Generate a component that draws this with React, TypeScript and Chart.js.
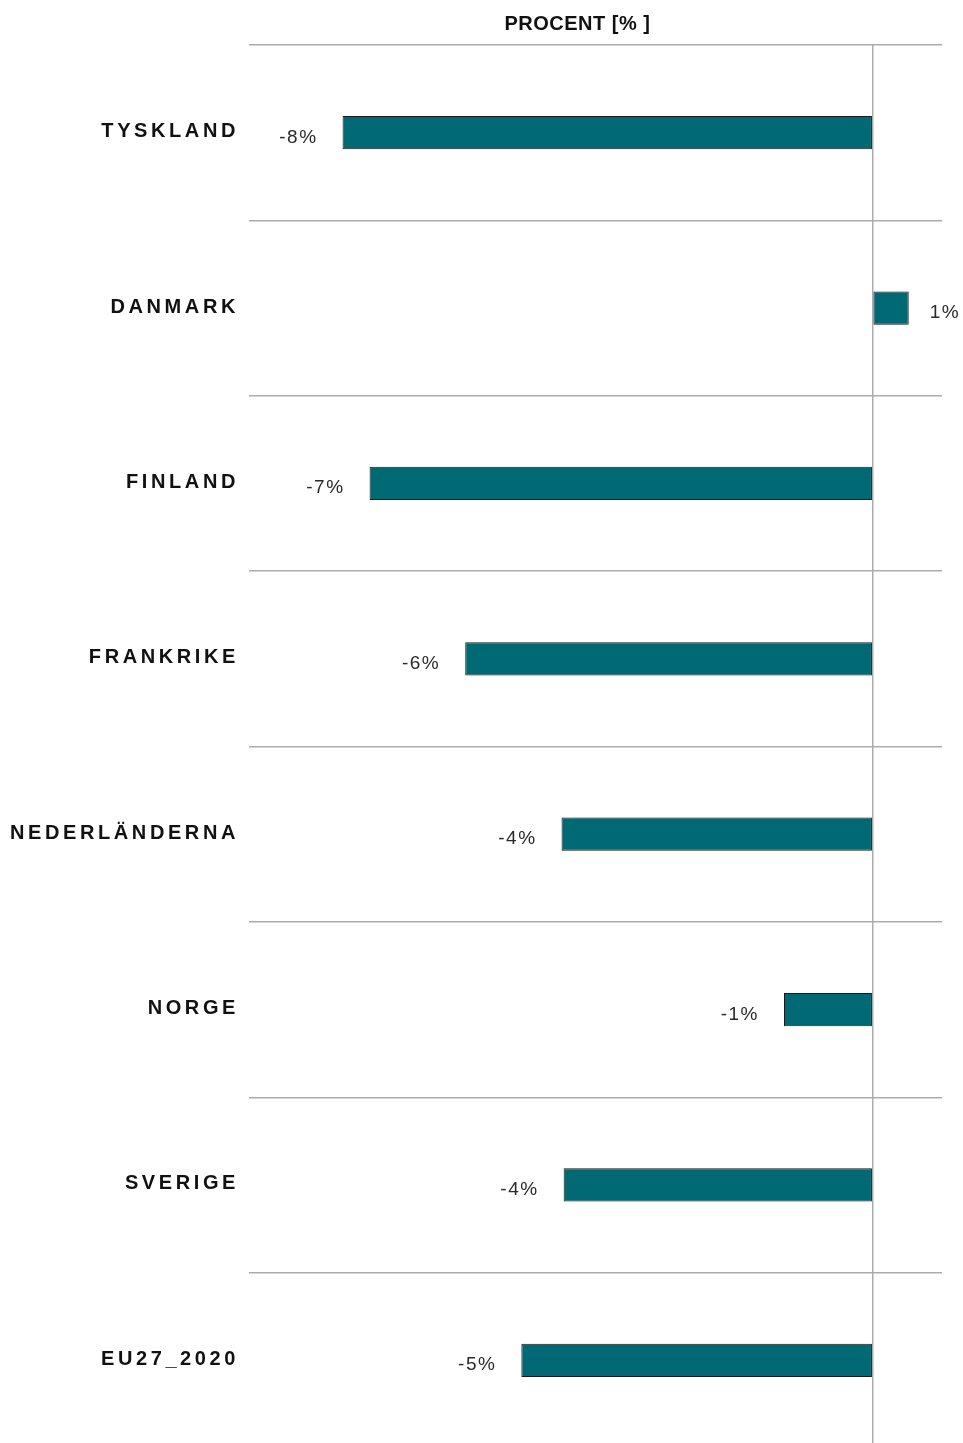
import React, { useEffect, useRef } from "react";
import { Chart, registerables } from "chart.js";

Chart.register(...registerables);

const categories = [
  "TYSKLAND",
  "DANMARK",
  "FINLAND",
  "FRANKRIKE",
  "NEDERLÄNDERNA",
  "NORGE",
  "SVERIGE",
  "EU27_2020",
];
const values = [-7.65, 0.52, -7.26, -5.88, -4.49, -1.28, -4.46, -5.07];
const axisTitle = "PROCENT [% ]";
const xMin = -9;
const xMax = 1;

const BAR_COLOR = "#006973";
const GRID_COLOR = "#ababab";

export default function App() {
  const ref = useRef<HTMLCanvasElement | null>(null);

  useEffect(() => {
    if (!ref.current) return;
    const plugin = {
      id: "custom",
      beforeDraw(chart: any) {
        chart.ctx.letterSpacing = "3.6px";
      },
      beforeDatasetsDraw(chart: any) {
        chart.ctx.letterSpacing = "0px";
      },
      afterDatasetsDraw(chart: any) {
        const ctx = chart.ctx;
        const meta = chart.getDatasetMeta(0);
        ctx.save();
        ctx.letterSpacing = "1.5px";
        ctx.font = "19px 'Liberation Sans', Arial, sans-serif";
        ctx.fillStyle = "#2a2a2a";
        ctx.textBaseline = "alphabetic";
        meta.data.forEach((bar: any, i: number) => {
          const v = values[i];
          const label = Math.round(v) + "%";
          if (v < 0) {
            ctx.textAlign = "right";
            ctx.fillText(label, bar.x - 25, bar.y + 10);
          } else {
            ctx.textAlign = "left";
            ctx.fillText(label, bar.x + 21, bar.y + 10);
          }
        });
        ctx.restore();
      },
      afterDraw(chart: any) {
        const ctx = chart.ctx;
        ctx.save();
        ctx.letterSpacing = "0.5px";
        ctx.font = "bold 20px 'Liberation Sans', Arial, sans-serif";
        ctx.fillStyle = "#111";
        ctx.textAlign = "center";
        ctx.textBaseline = "alphabetic";
        const ca = chart.chartArea;
        ctx.fillText(axisTitle, ca.left + (ca.right - ca.left) * 0.474, ca.top - 15);
        ctx.restore();
      },
    };

    const chart = new Chart(ref.current, {
      type: "bar",
      data: {
        labels: categories,
        datasets: [
          {
            data: values,
            backgroundColor: BAR_COLOR,
            borderColor: "#1a1a1a",
            borderWidth: 1,
            borderSkipped: false,
            categoryPercentage: 1,
            barPercentage: 0.19,
          },
        ],
      },
      options: {
        indexAxis: "y",
        responsive: false,
        animation: false,
        layout: { padding: { top: 45, right: 21, bottom: 4, left: 0 } },
        plugins: {
          legend: { display: false },
          tooltip: { enabled: false },
          title: { display: false },
        },
        scales: {
          x: {
            min: xMin,
            max: xMax,
            display: true,
            ticks: { display: false, stepSize: 1 },
            border: { display: false },
            grid: {
              drawTicks: false,
              lineWidth: 1.5,
              color: (c: any) => (c.tick && c.tick.value === 0 ? GRID_COLOR : "rgba(0,0,0,0)"),
            },
            afterFit: (s: any) => {
              s.height = 0;
              s.paddingLeft = 0;
              s.paddingRight = 0;
            },
          },
          y: {
            offset: true,
            border: { display: false },
            grid: {
              offset: true,
              drawTicks: false,
              color: GRID_COLOR,
              lineWidth: 1.5,
            },
            ticks: {
              padding: 10,
              labelOffset: -1,
              color: "#111",
              font: { family: "'Liberation Sans', Arial, sans-serif", size: 20, weight: "bold" },
            },
            afterFit: (s: any) => {
              s.width = 249;
              s.paddingTop = 0;
              s.paddingBottom = 0;
            },
          },
        },
      },
      plugins: [plugin],
    } as any);
    return () => chart.destroy();
  }, []);

  return (
    <div
      style={{
        position: "absolute",
        left: 0,
        top: 0,
        width: 963,
        height: 1443,
        overflow: "hidden",
        background: "#fff",
      }}
    >
      <canvas ref={ref} width={963} height={1452} style={{ display: "block" }} />
    </div>
  );
}
